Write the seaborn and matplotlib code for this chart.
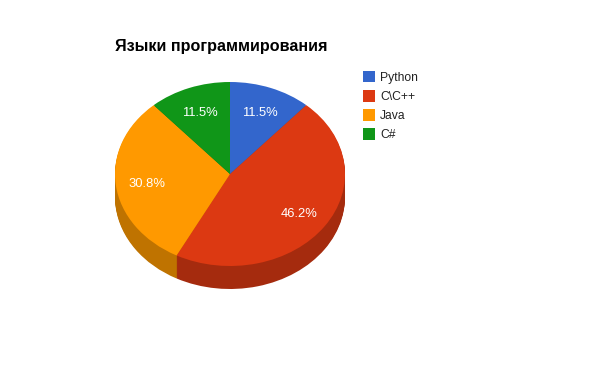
import matplotlib
matplotlib.use("Agg")
import matplotlib.pyplot as plt
from matplotlib.patches import Patch
import seaborn as sns

title = "Языки программирования"
languages = ["Python", "C\\C++", "Java", "C#"]
counts = [3, 12, 8, 3]
colors = ["#3366CC", "#DC3912", "#FF9900", "#109618"]

sns.set_theme(style="white")
plt.rcParams["font.family"] = ["Liberation Sans", "DejaVu Sans"]

fig = plt.figure(figsize=(6, 3.71), dpi=100)
ax = fig.add_axes([0, 0, 1, 1])

# pixel geometry of the flattened pie
cx, cy, rx, ry, depth = 230.0, 174.0, 115.0, 92.0, 23

# side of the pie: darker copies stacked from the bottom up
dark = [tuple(c * 0.75 for c in sns.color_palette([col])[0]) for col in colors]
for d in range(depth, 0, -1):
    ax.pie(counts, colors=dark, startangle=90, counterclock=False,
           center=(0, -d / ry), radius=1, wedgeprops={"linewidth": 0})

wedges, texts, autotexts = ax.pie(counts, colors=colors, startangle=90,
                                  counterclock=False, autopct="%.1f%%",
                                  pctdistance=0.73, radius=1,
                                  wedgeprops={"linewidth": 0})
for t in autotexts:
    t.set_color("white")
    t.set_fontsize(9.4)
    x, y = t.get_position()
    t.set_position((x, y - 2 / ry))

ax.set_aspect("auto")
ax.set_xlim(-cx / rx, (600 - cx) / rx)
ax.set_ylim(-(371 - cy) / ry, cy / ry)

fig.text(115 / 600, 1 - 51 / 371, title, fontsize=11.6, fontweight="bold",
         color="black", ha="left", va="baseline")

handles = [Patch(facecolor=c, edgecolor="none") for c in colors]
fig.legend(handles, languages, loc="upper left",
           bbox_to_anchor=(363 / 600, 1 - 70.5 / 371), frameon=False,
           fontsize=8.7, labelcolor="#222222", borderpad=0, borderaxespad=0,
           handlelength=1.0, handleheight=1.15, handletextpad=0.4,
           labelspacing=0.5)

fig.savefig("out.png", dpi=100)
